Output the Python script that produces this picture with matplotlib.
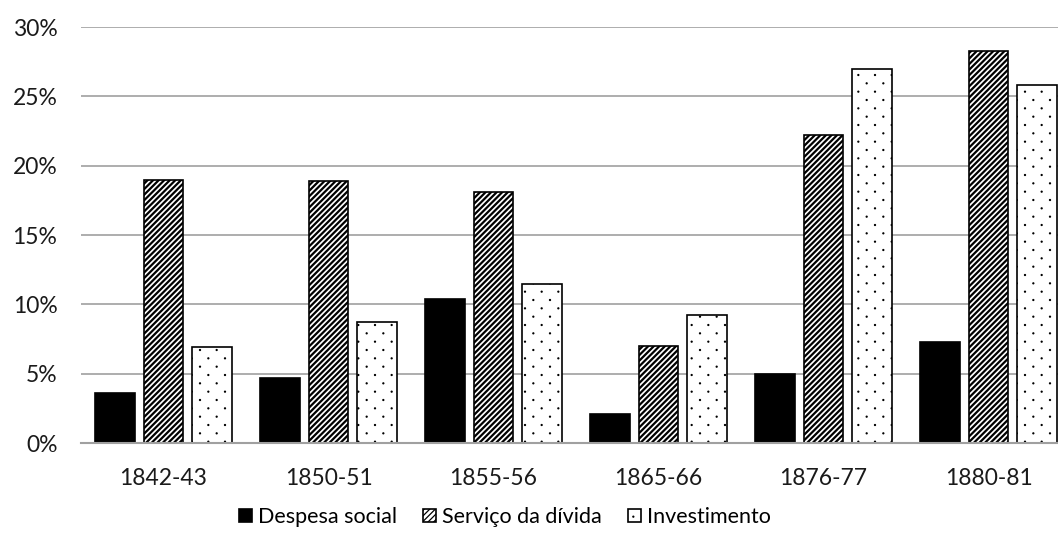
import numpy as np
import matplotlib
matplotlib.use("Agg")
import matplotlib.pyplot as plt
import matplotlib.hatch as mhatch
from matplotlib.path import Path
from matplotlib.ticker import PercentFormatter

periods = ["1842-43", "1850-51", "1855-56", "1865-66", "1876-77", "1880-81"]
despesa_social = [3.6, 4.7, 10.4, 2.1, 5.0, 7.3]
servico_divida = [19.0, 18.9, 18.1, 7.0, 22.2, 28.3]
investimento = [6.9, 8.7, 11.5, 9.2, 27.0, 25.8]


# sparse staggered dot grid for '.' (Excel style "5%" pattern)
class SparseDots(mhatch.HatchPatternBase):
    def __init__(self, hatch, density):
        n = hatch.count(".") * density
        self.pts = []
        if n:
            for r in range(2 * n + 1):
                yy = r / (2 * n)
                if r % 2 == 0:
                    xs = np.linspace(0, 1, n + 1)
                else:
                    xs = np.linspace(0.5 / n, 1 - 0.5 / n, n)
                self.pts += [(xx, yy) for xx in xs]
        circle = Path.unit_circle()
        self.shape_vertices = circle.vertices * 0.005
        self.shape_codes = circle.codes
        self.num_vertices = len(self.pts) * len(circle.vertices)

    def set_vertices_and_codes(self, vertices, codes):
        k = len(self.shape_vertices)
        for i, p in enumerate(self.pts):
            vertices[i * k:(i + 1) * k] = self.shape_vertices + p
            codes[i * k:(i + 1) * k] = self.shape_codes


mhatch._hatch_types = [SparseDots if t is mhatch.SmallFilledCircles else t
                       for t in mhatch._hatch_types]

plt.rcParams["font.family"] = ["Lato", "DejaVu Sans"]

fig = plt.figure(figsize=(10.58, 5.45), dpi=100)
ax = fig.add_axes([81 / 1058, 102 / 545, 990 / 1058, 416 / 545])

x = np.arange(len(periods))
w = 0.24
off = 0.294
ax.bar(x - off, despesa_social, w, color="black", edgecolor="black", linewidth=1.2,
       label="Despesa social", zorder=3)
plt.rcParams["hatch.linewidth"] = 1.6
ax.bar(x, servico_divida, w, color="white", edgecolor="black", hatch="//////", linewidth=1.2,
       label="Serviço da dívida", zorder=3)
plt.rcParams["hatch.linewidth"] = 0.9
ax.bar(x + off, investimento, w, color="white", edgecolor="black", hatch=".", linewidth=1.2,
       label="Investimento", zorder=3)

ax.set_xlim(-0.5, len(periods) - 0.5)
ax.set_ylim(0, 30)
ax.set_yticks(np.arange(0, 31, 5))
ax.yaxis.set_major_formatter(PercentFormatter(decimals=0))
ax.set_xticks(x)
ax.set_xticklabels(periods)
ax.tick_params(axis="both", length=0, labelsize=16.5, colors="#1a1a1a")
ax.tick_params(axis="y", pad=17)
ax.tick_params(axis="x", pad=18)
ax.grid(axis="y", color="#a0a0a0", linewidth=1.2, zorder=0)
for s in ["top", "right", "left"]:
    ax.spines[s].set_visible(False)
ax.spines["bottom"].set_color("#a0a0a0")
ax.spines["bottom"].set_linewidth(1.5)
ax.spines["bottom"].set_zorder(4)

fig.legend(loc="center", bbox_to_anchor=(505 / 1058, 1 - 517 / 545), ncol=3, frameon=False,
           fontsize=15.5, handlelength=0.6, handleheight=0.6, handletextpad=0.3,
           columnspacing=1.2)

fig.savefig("out.png", dpi=100)
